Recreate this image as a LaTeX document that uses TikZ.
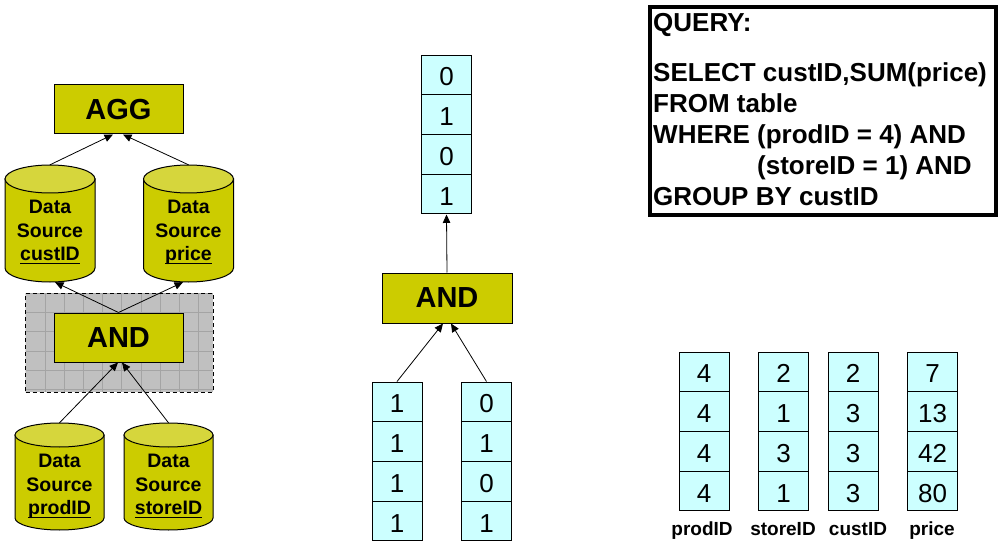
\documentclass[tikz,border=0pt]{standalone}
\usepackage{fontspec}
\setmainfont{Liberation Sans}
\usetikzlibrary{arrows.meta}
\definecolor{olivefill}{HTML}{CCCC00}
\definecolor{olivetop}{HTML}{D6D63C}
\definecolor{cellc}{HTML}{CCFFFF}
\definecolor{grayfill}{HTML}{C0C0C0}
\definecolor{grayline}{HTML}{A4A4A4}
\newcommand\ulx[1]{\setbox0\hbox{#1}\rlap{\rule[-3.5pt]{\wd0}{1.6pt}}\box0}
\tikzset{
 opbox/.style={draw, line width=1pt, fill=olivefill, minimum width=129pt, minimum height=49pt, inner sep=0pt, font=\fontsize{29}{34}\selectfont\bfseries},
 cell/.style={draw, line width=1pt, fill=cellc, minimum width=50pt, minimum height=39.75pt, inner sep=0pt, text height=22pt, text depth=0pt, font=\fontsize{26}{30}\selectfont},
 dstext/.style={align=center, inner sep=0pt, anchor=north, font=\fontsize{19.5}{23.5}\selectfont\bfseries},
 qline/.style={anchor=base west, inner sep=0pt, font=\fontsize{26}{31}\selectfont\bfseries},
 collabel/.style={anchor=base, inner sep=0pt, font=\fontsize{19}{22}\selectfont\bfseries},
 conn/.style={line width=0.8pt, -{Triangle[length=8.5pt,width=7.5pt]}},
}
% name, cx, top, bottom, rx, ry
\newcommand\dbcyl[6]{%
 \path[draw, line width=1pt, fill=olivefill] ({#2-#5},{-(#3+#6)}) -- ({#2-#5},{-(#4-#6)}) arc[start angle=180, end angle=360, x radius=#5, y radius=#6] -- ({#2+#5},{-(#3+#6)}) -- cycle;
 \draw[line width=1pt, fill=olivetop] (#2,{-(#3+#6)}) ellipse[x radius=#5, y radius=#6];
 \node[inner sep=0pt, minimum width={2*#5}, minimum height={#4-#3}] (#1) at (#2,{-(#3+#4)/2}) {};
}
\begin{document}
\begin{tikzpicture}[x=1pt,y=1pt]
\useasboundingbox (0,0) rectangle (1004,-548);

% ---------- left: plan ----------
\node[opbox] (agg) at (118.5,-109.5) {AGG};

\dbcyl{cust}{50}{165}{282}{45}{14}
\dbcyl{price}{188.5}{165}{282}{45}{14}
\node[dstext] (custt) at (50,-200) {Data\\Source\\\ulx{custID}};
\node[dstext] (pricet) at (188.5,-200) {Data\\Source\\\ulx{price}};

% gray group box
\fill[grayfill] (25.7,-293.3) rectangle (213,-392);
\begin{scope}[shift={(25.7,-293.3)}]
 \clip (0,0) rectangle (187.3,-98.7);
 \draw[grayline, line width=0.6pt, step=19.2] (0,-98.7) grid (187.3,0);
\end{scope}
\node[draw, dash pattern=on 4pt off 3pt, line width=0.8pt, minimum width=187.3pt, minimum height=98.7pt, inner sep=0pt] (grp) at (119.35,-342.65) {};

\node[opbox] (andl) at (118.5,-337.5) {AND};

\dbcyl{prod}{59.5}{423}{530}{44.5}{12}
\dbcyl{store}{168.5}{423}{530}{44.5}{12}
\node[dstext] (prodt) at (59.5,-454) {Data\\Source\\\ulx{prodID}};
\node[dstext] (storet) at (168.5,-454) {Data\\Source\\\ulx{storeID}};

\draw[conn] (cust.north) -- ([xshift=-5.5pt]agg.south);
\draw[conn] (price.north) -- ([xshift=4.5pt]agg.south);
\draw[conn] (andl.north) -- ([xshift=5pt]cust.south);
\draw[conn] (andl.north) -- ([xshift=-5.5pt]price.south);
\draw[conn] (prod.north) -- ([xshift=-0.5pt]andl.south);
\draw[conn] (store.north) -- ([xshift=3.5pt]andl.south);

% ---------- middle ----------
\node[cell] (m0) at (446.5,-74.9) {0};
\node[cell] (m1) at (446.5,-114.6) {1};
\node[cell] (m2) at (446.5,-154.4) {0};
\node[cell] (m3) at (446.5,-194.1) {1};

\node[opbox, minimum width=130pt, minimum height=50pt] (andm) at (447,-298) {AND};

\node[cell] (l0) at (397,-401.9) {1};
\node[cell] (l1) at (397,-441.6) {1};
\node[cell] (l2) at (397,-481.4) {1};
\node[cell] (l3) at (397,-521.1) {1};

\node[cell] (r0) at (486.5,-401.9) {0};
\node[cell] (r1) at (486.5,-441.6) {1};
\node[cell] (r2) at (486.5,-481.4) {0};
\node[cell] (r3) at (486.5,-521.1) {1};

\draw[conn] (andm.north) -- (m3.south);
\draw[conn] (l0.north) -- ([xshift=-4pt]andm.south);
\draw[conn] (r0.north) -- ([xshift=4pt]andm.south);

% ---------- query ----------
\node[draw, line width=4pt, minimum width=346pt, minimum height=208pt, inner sep=0pt] (qbox) at (823,-111) {};
\node[qline] (q0) at (653,-32) {QUERY:};
\node[qline] (q1) at (653,-82) {SELECT custID,SUM(price)};
\node[qline] (q2) at (653,-113) {FROM table};
\node[qline] (q3) at (653,-144) {WHERE (prodID = 4) AND};
\node[qline] (q4) at (757,-175) {(storeID = 1) AND};
\node[qline] (q5) at (653,-206) {GROUP BY custID};

% ---------- table ----------
\node[cell] (pa) at (704,-371.9) {4};
\node[cell] (pb) at (704,-411.6) {4};
\node[cell] (pc) at (704,-451.4) {4};
\node[cell] (pd) at (704,-491.1) {4};

\node[cell] (sa) at (783.5,-371.9) {2};
\node[cell] (sb) at (783.5,-411.6) {1};
\node[cell] (sc) at (783.5,-451.4) {3};
\node[cell] (sd) at (783.5,-491.1) {1};

\node[cell] (ca) at (853,-371.9) {2};
\node[cell] (cb) at (853,-411.6) {3};
\node[cell] (cc) at (853,-451.4) {3};
\node[cell] (cd) at (853,-491.1) {3};

\node[cell] (xa) at (932.5,-371.9) {7};
\node[cell] (xb) at (932.5,-411.6) {13};
\node[cell] (xc) at (932.5,-451.4) {42};
\node[cell] (xd) at (932.5,-491.1) {80};

\node[collabel] (lp) at (702,-535) {prodID};
\node[collabel] (ls) at (783,-535) {storeID};
\node[collabel] (lc) at (858,-535) {custID};
\node[collabel] (lx) at (932,-535) {price};
\end{tikzpicture}
\end{document}
